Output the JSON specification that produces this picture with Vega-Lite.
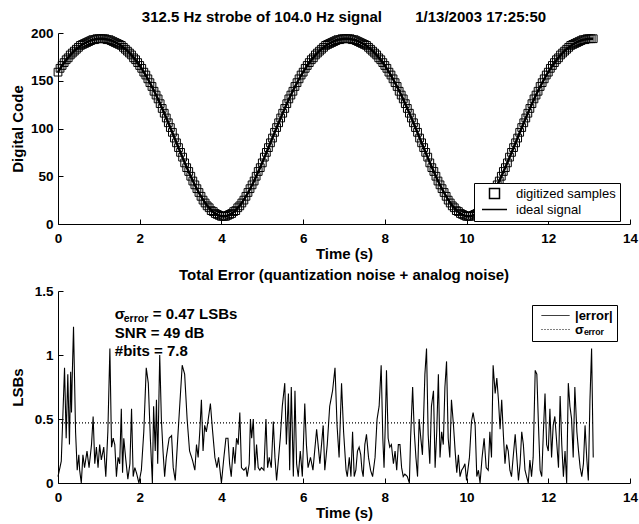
{
"$schema": "https://vega.github.io/schema/vega-lite/v6.json",
"padding": {"left": 10, "top": 10, "right": 5, "bottom": 2},
"spacing": 7,
"resolve": {"legend": {"shape": "independent", "strokeDash": "independent"}, "scale": {"shape": "independent", "strokeDash": "independent"}},
"config": {
  "view": {"stroke": null},
  "font": "Liberation Sans",
  "axis": {"labelFont": "Liberation Sans", "labelFontSize": 13.5, "labelFontWeight": "bold", "labelColor": "black", "titleFont": "Liberation Sans", "titleFontSize": 15, "titleFontWeight": "bold", "titleColor": "black", "domainColor": "black", "tickColor": "black", "tickSize": -5, "grid": false, "labelFlush": false, "domainWidth": 1, "tickWidth": 1},
  "title": {"font": "Liberation Sans", "fontSize": 15, "fontWeight": "bold", "color": "black", "offset": 1, "anchor": "middle"},
  "legend": {"labelFont": "Liberation Sans", "labelColor": "black"}
},
"datasets": {
"sig": [
{"t":0,"code":159,"ideal":159.1},{"t":0.05,"code":163,"ideal":162.5},{"t":0.1,"code":166,"ideal":165.7},{"t":0.15,"code":169,"ideal":168.8},{"t":0.2,"code":172,"ideal":171.6},{"t":0.25,"code":174,"ideal":174.3},{"t":0.3,"code":177,"ideal":176.8},{"t":0.35,"code":179,"ideal":179.1},{"t":0.4,"code":181,"ideal":181.2},{"t":0.45,"code":183,"ideal":183.2},{"t":0.5,"code":185,"ideal":184.9},{"t":0.55,"code":187,"ideal":186.5},{"t":0.6,"code":188,"ideal":188},{"t":0.65,"code":189,"ideal":189.3},{"t":0.7,"code":190,"ideal":190.4},{"t":0.75,"code":191,"ideal":191.4},{"t":0.8,"code":192,"ideal":192.2},{"t":0.85,"code":193,"ideal":192.8},{"t":0.9,"code":193,"ideal":193.3},{"t":0.95,"code":194,"ideal":193.7},{"t":1.0,"code":194,"ideal":193.9},{"t":1.05,"code":194,"ideal":194},
{"t":1.1,"code":194,"ideal":193.9},{"t":1.15,"code":194,"ideal":193.7},{"t":1.2,"code":193,"ideal":193.3},{"t":1.25,"code":193,"ideal":192.8},{"t":1.3,"code":192,"ideal":192.2},{"t":1.35,"code":191,"ideal":191.4},{"t":1.4,"code":190,"ideal":190.4},{"t":1.45,"code":189,"ideal":189.3},{"t":1.5,"code":188,"ideal":188},{"t":1.55,"code":187,"ideal":186.5},{"t":1.6,"code":185,"ideal":184.9},{"t":1.65,"code":183,"ideal":183.2},{"t":1.7,"code":181,"ideal":181.2},{"t":1.75,"code":179,"ideal":179.1},{"t":1.8,"code":177,"ideal":176.8},{"t":1.85,"code":174,"ideal":174.3},{"t":1.9,"code":172,"ideal":171.6},{"t":1.95,"code":169,"ideal":168.8},{"t":2.0,"code":166,"ideal":165.7},{"t":2.05,"code":163,"ideal":162.5},{"t":2.1,"code":159,"ideal":159.1},{"t":2.15,"code":156,"ideal":155.5},{"t":2.2,"code":152,"ideal":151.8},{"t":2.25,"code":148,"ideal":147.8},{"t":2.3,"code":144,"ideal":143.7},{"t":2.35,"code":139,"ideal":139.5},{"t":2.4,"code":135,"ideal":135.1},{"t":2.45,"code":131,"ideal":130.5},{"t":2.5,"code":126,"ideal":125.8},{"t":2.55,"code":121,"ideal":121},{"t":2.6,"code":116,"ideal":116.1},{"t":2.65,"code":111,"ideal":111.1},{"t":2.7,"code":106,"ideal":106},{"t":2.75,"code":101,"ideal":100.8},{"t":2.8,"code":96,"ideal":95.6},{"t":2.85,"code":90,"ideal":90.4},{"t":2.9,"code":85,"ideal":85.1},{"t":2.95,"code":80,"ideal":79.9},{"t":3.0,"code":75,"ideal":74.7},{"t":3.05,"code":70,"ideal":69.5},{"t":3.1,"code":64,"ideal":64.4},{"t":3.15,"code":59,"ideal":59.4},{"t":3.2,"code":55,"ideal":54.6},{"t":3.25,"code":50,"ideal":49.8},{"t":3.3,"code":45,"ideal":45.2},{"t":3.35,"code":41,"ideal":40.8},{"t":3.4,"code":37,"ideal":36.7},{"t":3.45,"code":33,"ideal":32.7},{"t":3.5,"code":29,"ideal":28.9},{"t":3.55,"code":25,"ideal":25.5},{"t":3.6,"code":22,"ideal":22.3},{"t":3.65,"code":19,"ideal":19.4},{"t":3.7,"code":17,"ideal":16.8},{"t":3.75,"code":14,"ideal":14.5},{"t":3.8,"code":13,"ideal":12.5},{"t":3.85,"code":11,"ideal":10.9},{"t":3.9,"code":10,"ideal":9.6},{"t":3.95,"code":9,"ideal":8.7},{"t":4.0,"code":8,"ideal":8.2},{"t":4.05,"code":8,"ideal":8},
{"t":4.1,"code":8,"ideal":8.2},{"t":4.15,"code":9,"ideal":8.7},{"t":4.2,"code":10,"ideal":9.6},{"t":4.25,"code":11,"ideal":10.9},{"t":4.3,"code":13,"ideal":12.5},{"t":4.35,"code":14,"ideal":14.5},{"t":4.4,"code":17,"ideal":16.8},{"t":4.45,"code":19,"ideal":19.4},{"t":4.5,"code":22,"ideal":22.3},{"t":4.55,"code":25,"ideal":25.5},{"t":4.6,"code":29,"ideal":28.9},{"t":4.65,"code":33,"ideal":32.7},{"t":4.7,"code":37,"ideal":36.7},{"t":4.75,"code":41,"ideal":40.8},{"t":4.8,"code":45,"ideal":45.2},{"t":4.85,"code":50,"ideal":49.8},{"t":4.9,"code":55,"ideal":54.6},{"t":4.95,"code":59,"ideal":59.4},{"t":5.0,"code":64,"ideal":64.4},{"t":5.05,"code":70,"ideal":69.5},{"t":5.1,"code":75,"ideal":74.7},{"t":5.15,"code":80,"ideal":79.9},{"t":5.2,"code":85,"ideal":85.1},{"t":5.25,"code":90,"ideal":90.4},{"t":5.3,"code":96,"ideal":95.6},{"t":5.35,"code":101,"ideal":100.8},{"t":5.4,"code":106,"ideal":106},{"t":5.45,"code":111,"ideal":111.1},{"t":5.5,"code":116,"ideal":116.1},{"t":5.55,"code":121,"ideal":121},{"t":5.6,"code":126,"ideal":125.8},{"t":5.65,"code":131,"ideal":130.5},{"t":5.7,"code":135,"ideal":135.1},{"t":5.75,"code":139,"ideal":139.5},{"t":5.8,"code":144,"ideal":143.7},{"t":5.85,"code":148,"ideal":147.8},{"t":5.9,"code":152,"ideal":151.8},{"t":5.95,"code":156,"ideal":155.5},{"t":6.0,"code":159,"ideal":159.1},{"t":6.05,"code":163,"ideal":162.5},{"t":6.1,"code":166,"ideal":165.7},{"t":6.15,"code":169,"ideal":168.8},{"t":6.2,"code":172,"ideal":171.6},{"t":6.25,"code":174,"ideal":174.3},{"t":6.3,"code":177,"ideal":176.8},{"t":6.35,"code":179,"ideal":179.1},{"t":6.4,"code":181,"ideal":181.2},{"t":6.45,"code":183,"ideal":183.2},{"t":6.5,"code":185,"ideal":184.9},{"t":6.55,"code":187,"ideal":186.5},{"t":6.6,"code":188,"ideal":188},{"t":6.65,"code":189,"ideal":189.3},{"t":6.7,"code":190,"ideal":190.4},{"t":6.75,"code":191,"ideal":191.4},{"t":6.8,"code":192,"ideal":192.2},{"t":6.85,"code":193,"ideal":192.8},{"t":6.9,"code":193,"ideal":193.3},{"t":6.95,"code":194,"ideal":193.7},{"t":7.0,"code":194,"ideal":193.9},{"t":7.05,"code":194,"ideal":194},
{"t":7.1,"code":194,"ideal":193.9},{"t":7.15,"code":194,"ideal":193.7},{"t":7.2,"code":193,"ideal":193.3},{"t":7.25,"code":193,"ideal":192.8},{"t":7.3,"code":192,"ideal":192.2},{"t":7.35,"code":191,"ideal":191.4},{"t":7.4,"code":190,"ideal":190.4},{"t":7.45,"code":189,"ideal":189.3},{"t":7.5,"code":188,"ideal":188},{"t":7.55,"code":187,"ideal":186.5},{"t":7.6,"code":185,"ideal":184.9},{"t":7.65,"code":183,"ideal":183.2},{"t":7.7,"code":181,"ideal":181.2},{"t":7.75,"code":179,"ideal":179.1},{"t":7.8,"code":177,"ideal":176.8},{"t":7.85,"code":174,"ideal":174.3},{"t":7.9,"code":172,"ideal":171.6},{"t":7.95,"code":169,"ideal":168.8},{"t":8.0,"code":166,"ideal":165.7},{"t":8.05,"code":163,"ideal":162.5},{"t":8.1,"code":159,"ideal":159.1},{"t":8.15,"code":156,"ideal":155.5},{"t":8.2,"code":152,"ideal":151.8},{"t":8.25,"code":148,"ideal":147.8},{"t":8.3,"code":144,"ideal":143.7},{"t":8.35,"code":139,"ideal":139.5},{"t":8.4,"code":135,"ideal":135.1},{"t":8.45,"code":131,"ideal":130.5},{"t":8.5,"code":126,"ideal":125.8},{"t":8.55,"code":121,"ideal":121},{"t":8.6,"code":116,"ideal":116.1},{"t":8.65,"code":111,"ideal":111.1},{"t":8.7,"code":106,"ideal":106},{"t":8.75,"code":101,"ideal":100.8},{"t":8.8,"code":96,"ideal":95.6},{"t":8.85,"code":90,"ideal":90.4},{"t":8.9,"code":85,"ideal":85.1},{"t":8.95,"code":80,"ideal":79.9},{"t":9.0,"code":75,"ideal":74.7},{"t":9.05,"code":70,"ideal":69.5},{"t":9.1,"code":64,"ideal":64.4},{"t":9.15,"code":59,"ideal":59.4},{"t":9.2,"code":55,"ideal":54.6},{"t":9.25,"code":50,"ideal":49.8},{"t":9.3,"code":45,"ideal":45.2},{"t":9.35,"code":41,"ideal":40.8},{"t":9.4,"code":37,"ideal":36.7},{"t":9.45,"code":33,"ideal":32.7},{"t":9.5,"code":29,"ideal":28.9},{"t":9.55,"code":25,"ideal":25.5},{"t":9.6,"code":22,"ideal":22.3},{"t":9.65,"code":19,"ideal":19.4},{"t":9.7,"code":17,"ideal":16.8},{"t":9.75,"code":14,"ideal":14.5},{"t":9.8,"code":13,"ideal":12.5},{"t":9.85,"code":11,"ideal":10.9},{"t":9.9,"code":10,"ideal":9.6},{"t":9.95,"code":9,"ideal":8.7},{"t":10.0,"code":8,"ideal":8.2},{"t":10.05,"code":8,"ideal":8},
{"t":10.1,"code":8,"ideal":8.2},{"t":10.15,"code":9,"ideal":8.7},{"t":10.2,"code":10,"ideal":9.6},{"t":10.25,"code":11,"ideal":10.9},{"t":10.3,"code":13,"ideal":12.5},{"t":10.35,"code":14,"ideal":14.5},{"t":10.4,"code":17,"ideal":16.8},{"t":10.45,"code":19,"ideal":19.4},{"t":10.5,"code":22,"ideal":22.3},{"t":10.55,"code":25,"ideal":25.5},{"t":10.6,"code":29,"ideal":28.9},{"t":10.65,"code":33,"ideal":32.7},{"t":10.7,"code":37,"ideal":36.7},{"t":10.75,"code":41,"ideal":40.8},{"t":10.8,"code":45,"ideal":45.2},{"t":10.85,"code":50,"ideal":49.8},{"t":10.9,"code":55,"ideal":54.6},{"t":10.95,"code":59,"ideal":59.4},{"t":11.0,"code":64,"ideal":64.4},{"t":11.05,"code":70,"ideal":69.5},{"t":11.1,"code":75,"ideal":74.7},{"t":11.15,"code":80,"ideal":79.9},{"t":11.2,"code":85,"ideal":85.1},{"t":11.25,"code":90,"ideal":90.4},{"t":11.3,"code":96,"ideal":95.6},{"t":11.35,"code":101,"ideal":100.8},{"t":11.4,"code":106,"ideal":106},{"t":11.45,"code":111,"ideal":111.1},{"t":11.5,"code":116,"ideal":116.1},{"t":11.55,"code":121,"ideal":121},{"t":11.6,"code":126,"ideal":125.8},{"t":11.65,"code":131,"ideal":130.5},{"t":11.7,"code":135,"ideal":135.1},{"t":11.75,"code":139,"ideal":139.5},{"t":11.8,"code":144,"ideal":143.7},{"t":11.85,"code":148,"ideal":147.8},{"t":11.9,"code":152,"ideal":151.8},{"t":11.95,"code":156,"ideal":155.5},{"t":12.0,"code":159,"ideal":159.1},{"t":12.05,"code":163,"ideal":162.5},{"t":12.1,"code":166,"ideal":165.7},{"t":12.15,"code":169,"ideal":168.8},{"t":12.2,"code":172,"ideal":171.6},{"t":12.25,"code":174,"ideal":174.3},{"t":12.3,"code":177,"ideal":176.8},{"t":12.35,"code":179,"ideal":179.1},{"t":12.4,"code":181,"ideal":181.2},{"t":12.45,"code":183,"ideal":183.2},{"t":12.5,"code":185,"ideal":184.9},{"t":12.55,"code":187,"ideal":186.5},{"t":12.6,"code":188,"ideal":188},{"t":12.65,"code":189,"ideal":189.3},{"t":12.7,"code":190,"ideal":190.4},{"t":12.75,"code":191,"ideal":191.4},{"t":12.8,"code":192,"ideal":192.2},{"t":12.85,"code":193,"ideal":192.8},{"t":12.9,"code":193,"ideal":193.3},{"t":12.95,"code":194,"ideal":193.7},{"t":13.0,"code":194,"ideal":193.9},{"t":13.05,"code":194,"ideal":194},{"t":13.1,"code":194,"ideal":193.9}
],
"err": [
{"t":0,"err":0.05},{"t":0.08,"err":0.17},{"t":0.16,"err":0.9},{"t":0.2,"err":0.35},{"t":0.24,"err":0.85},{"t":0.28,"err":0.3},{"t":0.31,"err":0.87},{"t":0.33,"err":0.55},{"t":0.35,"err":0.85},{"t":0.38,"err":1.22},{"t":0.43,"err":0.4},{"t":0.47,"err":0.1},{"t":0.51,"err":0.22},{"t":0.53,"err":0.1},{"t":0.57,"err":0.0},{"t":0.61,"err":0.22},{"t":0.65,"err":0.12},{"t":0.71,"err":0.25},{"t":0.76,"err":0.12},{"t":0.82,"err":0.3},{"t":0.86,"err":0.52},{"t":0.9,"err":0.15},{"t":0.94,"err":0.28},{"t":0.98,"err":0.12},{"t":1.02,"err":0.3},{"t":1.06,"err":0.18},{"t":1.12,"err":0.28},{"t":1.17,"err":0.05},{"t":1.22,"err":0.4},{"t":1.27,"err":1.05},{"t":1.31,"err":0.28},{"t":1.35,"err":0.35},{"t":1.39,"err":0.3},{"t":1.43,"err":0.05},{"t":1.47,"err":0.2},{"t":1.51,"err":0.15},{"t":1.55,"err":0.58},{"t":1.58,"err":0.08},{"t":1.61,"err":0.35},{"t":1.66,"err":0.18},{"t":1.71,"err":0.03},{"t":1.76,"err":0.15},{"t":1.8,"err":0.58},{"t":1.84,"err":0.05},{"t":1.88,"err":0.12},{"t":1.92,"err":0.08},{"t":1.98,"err":0.0},{"t":2.04,"err":0.1},{"t":2.1,"err":0.4},{"t":2.16,"err":0.9},{"t":2.21,"err":0.78},{"t":2.26,"err":0.35},{"t":2.31,"err":0.0},{"t":2.34,"err":0.6},{"t":2.38,"err":0.25},{"t":2.41,"err":0.65},{"t":2.44,"err":0.15},{"t":2.49,"err":1.0},{"t":2.53,"err":0.5},{"t":2.57,"err":0.25},{"t":2.61,"err":0.05},{"t":2.65,"err":0.2},{"t":2.72,"err":0.35},{"t":2.78,"err":0.37},{"t":2.82,"err":0.12},{"t":2.87,"err":0.02},{"t":2.94,"err":0.4},{"t":3.04,"err":0.92},{"t":3.1,"err":0.85},{"t":3.16,"err":0.5},{"t":3.22,"err":0.25},{"t":3.29,"err":0.18},{"t":3.35,"err":0.1},{"t":3.39,"err":0.3},{"t":3.43,"err":0.2},{"t":3.47,"err":0.4},{"t":3.51,"err":0.65},{"t":3.55,"err":0.25},{"t":3.59,"err":0.45},{"t":3.63,"err":0.4},{"t":3.67,"err":0.48},{"t":3.73,"err":0.62},{"t":3.78,"err":0.42},{"t":3.84,"err":0.2},{"t":3.89,"err":0.12},{"t":3.93,"err":0.2},{"t":4.0,"err":0.0},{"t":4.06,"err":0.2},{"t":4.11,"err":0.35},{"t":4.16,"err":0.35},{"t":4.2,"err":0.15},{"t":4.24,"err":0.05},{"t":4.29,"err":0.28},{"t":4.33,"err":0.15},{"t":4.37,"err":0.35},{"t":4.41,"err":0.3},{"t":4.45,"err":0.55},{"t":4.49,"err":0.12},{"t":4.55,"err":0.1},{"t":4.6,"err":0.12},{"t":4.63,"err":0.05},{"t":4.68,"err":0.15},{"t":4.71,"err":0.5},{"t":4.74,"err":0.35},{"t":4.78,"err":0.5},{"t":4.82,"err":0.1},{"t":4.86,"err":0.3},{"t":4.9,"err":0.12},{"t":4.94,"err":0.1},{"t":4.98,"err":0.12},{"t":5.04,"err":0.1},{"t":5.09,"err":0.5},{"t":5.13,"err":0.12},{"t":5.17,"err":0.2},{"t":5.22,"err":0.12},{"t":5.27,"err":0.48},{"t":5.31,"err":0.2},{"t":5.35,"err":0.02},{"t":5.4,"err":0.2},{"t":5.44,"err":0.35},{"t":5.49,"err":0.6},{"t":5.55,"err":0.78},{"t":5.59,"err":0.3},{"t":5.64,"err":0.7},{"t":5.67,"err":0.1},{"t":5.71,"err":0.75},{"t":5.76,"err":0.05},{"t":5.8,"err":0.72},{"t":5.84,"err":0.15},{"t":5.88,"err":0.05},{"t":5.93,"err":0.25},{"t":5.98,"err":0.05},{"t":6.04,"err":0.62},{"t":6.08,"err":0.3},{"t":6.12,"err":0.12},{"t":6.18,"err":0.2},{"t":6.24,"err":0.1},{"t":6.33,"err":0.42},{"t":6.41,"err":0.15},{"t":6.49,"err":0.45},{"t":6.53,"err":0.1},{"t":6.59,"err":0.3},{"t":6.65,"err":0.6},{"t":6.72,"err":0.72},{"t":6.78,"err":0.9},{"t":6.83,"err":0.45},{"t":6.88,"err":0.2},{"t":6.94,"err":0.78},{"t":6.99,"err":0.4},{"t":7.05,"err":0.1},{"t":7.08,"err":0.05},{"t":7.13,"err":0.2},{"t":7.17,"err":0.05},{"t":7.21,"err":0.4},{"t":7.25,"err":0.05},{"t":7.29,"err":0.1},{"t":7.33,"err":0.25},{"t":7.37,"err":0.28},{"t":7.41,"err":0.22},{"t":7.44,"err":0.1},{"t":7.47,"err":0.05},{"t":7.51,"err":0.3},{"t":7.55,"err":0.38},{"t":7.6,"err":0.2},{"t":7.65,"err":0.1},{"t":7.7,"err":0.05},{"t":7.76,"err":0.2},{"t":7.81,"err":0.5},{"t":7.86,"err":0.6},{"t":7.91,"err":0.92},{"t":7.95,"err":0.35},{"t":7.98,"err":0.12},{"t":8.01,"err":0.45},{"t":8.04,"err":0.88},{"t":8.08,"err":0.35},{"t":8.12,"err":0.28},{"t":8.16,"err":0.3},{"t":8.21,"err":0.15},{"t":8.25,"err":0.25},{"t":8.29,"err":0.1},{"t":8.33,"err":0.3},{"t":8.37,"err":0.3},{"t":8.41,"err":0.12},{"t":8.45,"err":0.05},{"t":8.49,"err":0.07},{"t":8.55,"err":0.05},{"t":8.6,"err":0.0},{"t":8.63,"err":0.35},{"t":8.68,"err":0.75},{"t":8.72,"err":0.4},{"t":8.76,"err":0.2},{"t":8.8,"err":0.05},{"t":8.84,"err":0.5},{"t":8.88,"err":0.35},{"t":8.92,"err":0.22},{"t":8.98,"err":0.85},{"t":9.02,"err":1.05},{"t":9.06,"err":0.38},{"t":9.1,"err":0.15},{"t":9.14,"err":0.6},{"t":9.19,"err":0.72},{"t":9.23,"err":0.12},{"t":9.27,"err":0.4},{"t":9.31,"err":0.85},{"t":9.35,"err":0.2},{"t":9.39,"err":0.4},{"t":9.43,"err":0.3},{"t":9.47,"err":0.75},{"t":9.51,"err":0.95},{"t":9.55,"err":0.35},{"t":9.59,"err":0.2},{"t":9.63,"err":0.65},{"t":9.68,"err":0.45},{"t":9.72,"err":0.25},{"t":9.76,"err":0.08},{"t":9.8,"err":0.22},{"t":9.84,"err":0.05},{"t":9.88,"err":0.1},{"t":9.92,"err":0.12},{"t":9.96,"err":0.15},{"t":10.0,"err":0.02},{"t":10.07,"err":0.2},{"t":10.12,"err":0.48},{"t":10.16,"err":0.55},{"t":10.21,"err":0.45},{"t":10.25,"err":0.05},{"t":10.29,"err":0.1},{"t":10.33,"err":0.0},{"t":10.38,"err":0.2},{"t":10.43,"err":0.35},{"t":10.48,"err":0.12},{"t":10.53,"err":0.1},{"t":10.57,"err":0.4},{"t":10.61,"err":0.2},{"t":10.65,"err":0.92},{"t":10.7,"err":0.7},{"t":10.74,"err":0.82},{"t":10.78,"err":0.65},{"t":10.82,"err":0.42},{"t":10.86,"err":0.65},{"t":10.9,"err":0.38},{"t":10.94,"err":0.15},{"t":10.98,"err":0.3},{"t":11.02,"err":0.25},{"t":11.06,"err":0.1},{"t":11.1,"err":0.05},{"t":11.14,"err":0.2},{"t":11.19,"err":0.38},{"t":11.23,"err":0.2},{"t":11.27,"err":0.02},{"t":11.31,"err":0.15},{"t":11.35,"err":0.4},{"t":11.39,"err":0.3},{"t":11.43,"err":0.1},{"t":11.47,"err":0.05},{"t":11.51,"err":0.0},{"t":11.55,"err":0.18},{"t":11.59,"err":0.05},{"t":11.63,"err":0.2},{"t":11.68,"err":0.88},{"t":11.72,"err":0.85},{"t":11.76,"err":0.45},{"t":11.8,"err":0.1},{"t":11.84,"err":0.05},{"t":11.88,"err":0.4},{"t":11.92,"err":0.7},{"t":11.96,"err":0.3},{"t":12.0,"err":0.25},{"t":12.04,"err":0.58},{"t":12.08,"err":0.2},{"t":12.12,"err":0.45},{"t":12.16,"err":0.52},{"t":12.21,"err":0.3},{"t":12.25,"err":0.12},{"t":12.29,"err":0.68},{"t":12.33,"err":0.3},{"t":12.37,"err":0.05},{"t":12.41,"err":0.25},{"t":12.45,"err":0.0},{"t":12.49,"err":0.78},{"t":12.53,"err":0.6},{"t":12.57,"err":0.5},{"t":12.61,"err":0.2},{"t":12.65,"err":0.75},{"t":12.7,"err":0.4},{"t":12.74,"err":0.25},{"t":12.78,"err":0.12},{"t":12.82,"err":0.05},{"t":12.86,"err":0.15},{"t":12.9,"err":0.45},{"t":12.94,"err":0.2},{"t":12.98,"err":0.02},{"t":13.02,"err":0.65},{"t":13.06,"err":1.05},{"t":13.1,"err":0.2}
]
},
"vconcat": [
{
  "width": 572, "height": 191,
  "title": {"text": "312.5 Hz strobe of 104.0 Hz signal\u00a0\u00a0\u00a0\u00a0\u00a0\u00a0\u00a0\u00a01/13/2003 17:25:50"},
  "data": {"name": "sig"},
  "layer": [
    {
      "mark": {"type": "point", "filled": false, "size": 60, "strokeWidth": 1, "color": "black", "opacity": 1},
      "encoding": {
        "x": {"field": "t", "type": "quantitative", "title": "Time (s)", "scale": {"domain": [0, 14], "nice": false}, "axis": {"values": [0,2,4,6,8,10,12,14], "labelPadding": 12.5, "titlePadding": 1}},
        "y": {"field": "code", "type": "quantitative", "title": "Digital Code", "scale": {"domain": [0, 200], "nice": false}, "axis": {"values": [0,50,100,150,200], "labelPadding": 10, "titleX": -33, "titleY": 95.5}},
        "shape": {"datum": "digitized samples", "scale": {"domain": ["digitized samples", "ideal signal"], "range": ["square", "M-2.5,0H2.5"]},
          "legend": {"title": null, "orient": "none", "legendX": 416, "legendY": 150, "direction": "vertical", "strokeColor": "black", "fillColor": "white", "padding": 4, "symbolSize": 100, "symbolOffset": 10, "labelOffset": 15, "labelFontSize": 13, "labelFontWeight": "normal", "rowPadding": 1, "cornerRadius": 0,
            "encode": {"symbols": {"update": {"size": [{"test": "datum.value === 'ideal signal'", "value": 100}, {"value": 64}], "strokeWidth": [{"test": "datum.value === 'ideal signal'", "value": 2.5}, {"value": 1}], "stroke": {"value": "black"}}}}}}
      }
    },
    {
      "mark": {"type": "line", "color": "black", "strokeWidth": 2.5},
      "encoding": {
        "x": {"field": "t", "type": "quantitative", "title": "Time (s)"},
        "y": {"field": "ideal", "type": "quantitative", "title": "Digital Code"}
      }
    }
  ]
},
{
  "width": 572, "height": 192,
  "title": {"text": "Total Error (quantization noise + analog noise)"},
  "layer": [
    {
      "data": {"name": "err"},
      "mark": {"type": "line", "color": "black", "strokeWidth": 1.1},
      "encoding": {
        "x": {"field": "t", "type": "quantitative", "title": "Time (s)", "scale": {"domain": [0, 14], "nice": false}, "axis": {"values": [0,2,4,6,8,10,12,14], "labelPadding": 12.5, "titlePadding": 1}},
        "y": {"field": "err", "type": "quantitative", "title": "LSBs", "scale": {"domain": [0, 1.5], "nice": false}, "axis": {"values": [0, 0.5, 1, 1.5], "format": "~g", "labelPadding": 10, "titleX": -33, "titleY": 96}},
        "strokeDash": {"datum": "|error|", "scale": {"domain": ["|error|", "\u03c3\u2091\u1d63\u1d63\u2092\u1d63"], "range": [[1, 0], [1, 2]]},
          "legend": {"title": null, "orient": "none", "legendX": 474, "legendY": 14, "direction": "vertical", "strokeColor": "black", "fillColor": "white", "padding": 4, "symbolType": "M-2.8,0H2.8", "symbolSize": 100, "symbolOffset": 13, "labelOffset": 13, "labelFontSize": 13, "labelFontWeight": "bold", "rowPadding": 0, "symbolStrokeWidth": 1, "symbolStrokeColor": "black", "cornerRadius": 0}}
      }
    },
    {
      "data": {"values": [{"sigma": 0.47, "t0": 0, "t1": 13.1}]},
      "mark": {"type": "rule", "color": "black", "strokeWidth": 1.2},
      "encoding": {
        "x": {"field": "t0", "type": "quantitative", "title": "Time (s)"},
        "x2": {"field": "t1"},
        "y": {"field": "sigma", "type": "quantitative", "title": "LSBs"},
        "strokeDash": {"datum": "\u03c3\u2091\u1d63\u1d63\u2092\u1d63"}
      }
    },
    {
      "data": {"values": [{"t": 1.39, "v": 1.28, "label": "\u03c3"}, {"t": 2.32, "v": 1.28, "label": "= 0.47 LSBs"}, {"t": 1.39, "v": 1.13, "label": "SNR = 49 dB"}, {"t": 1.39, "v": 0.99, "label": "#bits = 7.8"}]},
      "mark": {"type": "text", "align": "left", "baseline": "alphabetic", "fontSize": 15, "fontWeight": "bold", "font": "Liberation Sans", "color": "black"},
      "encoding": {
        "x": {"field": "t", "type": "quantitative", "title": "Time (s)"},
        "y": {"field": "v", "type": "quantitative", "title": "LSBs"},
        "text": {"field": "label"}
      }
    },
    {
      "data": {"values": [{"t": 1.61, "v": 1.28, "label": "error"}]},
      "mark": {"type": "text", "align": "left", "baseline": "alphabetic", "fontSize": 10.5, "fontWeight": "bold", "font": "Liberation Sans", "color": "black", "dy": 3},
      "encoding": {
        "x": {"field": "t", "type": "quantitative", "title": "Time (s)"},
        "y": {"field": "v", "type": "quantitative", "title": "LSBs"},
        "text": {"field": "label"}
      }
    }
  ]
}
]
}
